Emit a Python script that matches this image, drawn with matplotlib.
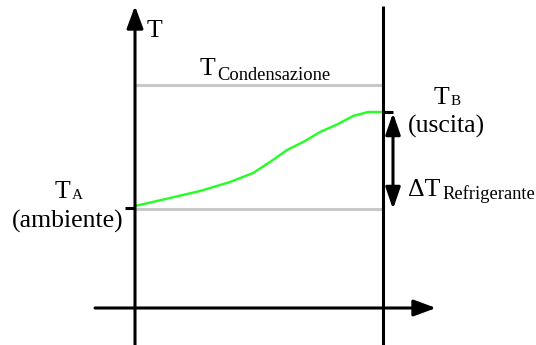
import matplotlib
matplotlib.use("Agg")
import matplotlib.pyplot as plt

# ---- data (schematic coordinates: x = position along the condenser, T = temperature level) ----
x_in, x_out = 135, 383            # inlet / outlet vertical lines
T_cond = 85                        # condensation temperature level
T_amb = 209                        # ambient temperature level
curve_x = [135, 170, 200, 230, 253, 270, 287, 305, 320, 338, 353, 368, 382]
curve_T = [206, 198, 191, 182, 173, 162, 150, 141, 132, 124, 116, 112, 112]
T_B = 112

LW = 2.2

fig = plt.figure(figsize=(5.36, 3.45), dpi=100)
ax = fig.add_axes([0, 0, 1, 1])
ax.set_xlim(0, 536)
ax.set_ylim(345, 0)
ax.axis("off")

serif = "Liberation Serif"

# gray reference lines
ax.plot([x_in, x_out], [T_cond, T_cond], color="#c8c8c8", lw=LW, solid_capstyle="butt", zorder=1)
ax.plot([x_in, x_out], [T_amb, T_amb], color="#c8c8c8", lw=LW, solid_capstyle="butt", zorder=1)

# green temperature profile
ax.plot(curve_x, curve_T, color="#22ff22", lw=1.7, zorder=2)

# axes
arrow = dict(arrowstyle="-|>,head_length=1.35,head_width=0.5", color="black", lw=LW,
             mutation_scale=10, shrinkA=0, shrinkB=0)
ax.annotate("", xy=(x_in, 6), xytext=(x_in, 345), arrowprops=arrow, zorder=3)
ax.annotate("", xy=(436, 308), xytext=(95, 308), arrowprops=arrow, zorder=3)
ax.plot([x_out, x_out], [6, 345], color="black", lw=LW, solid_capstyle="butt", zorder=3)

# small ticks
ax.plot([125, x_in], [T_amb - 1, T_amb - 1], color="black", lw=LW, solid_capstyle="butt", zorder=3)
ax.plot([x_out, 393], [T_B, T_B], color="black", lw=LW, solid_capstyle="butt", zorder=3)

# double arrow (delta T)
darrow = dict(arrowstyle="<|-|>,head_length=1.3,head_width=0.45", color="black", lw=LW,
              mutation_scale=10, shrinkA=0, shrinkB=0)
ax.annotate("", xy=(393, T_B + 1), xytext=(393, T_amb), arrowprops=darrow, zorder=3)

# texts
big = 18.5
sub = 13.3
small = 11
ax.text(147, 37, "T", fontsize=big, family=serif, va="baseline", ha="left")

ax.text(200, 75, "T", fontsize=big, family=serif, va="baseline", ha="left")
ax.text(217, 80, "Condensazione", fontsize=sub, family=serif, va="baseline", ha="left")

ax.text(55, 198, "T", fontsize=big, family=serif, va="baseline", ha="left")
ax.text(72, 199, "A", fontsize=small, family=serif, va="baseline", ha="left")
ax.text(68, 228, "(ambiente)", fontsize=big, family=serif, va="baseline", ha="center")

ax.text(434, 104, "T", fontsize=big, family=serif, va="baseline", ha="left")
ax.text(451, 105, "B", fontsize=small, family=serif, va="baseline", ha="left")
ax.text(408, 133, "(uscita)", fontsize=big, family=serif, va="baseline", ha="left")

ax.text(408, 196, "\u0394T", fontsize=big, family=serif, va="baseline", ha="left")
ax.text(442, 199, "Refrigerante", fontsize=sub, family=serif, va="baseline", ha="left")

fig.savefig("out.png", dpi=100)
